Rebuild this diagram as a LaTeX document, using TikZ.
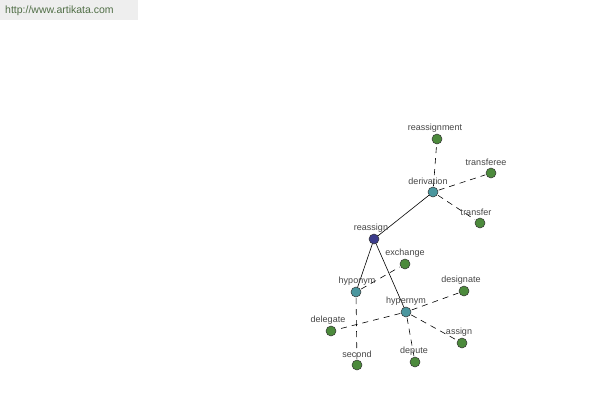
\documentclass[tikz,border=0pt]{standalone}
\usepackage{fontspec}
\setmainfont{Liberation Sans}
\definecolor{rootc}{RGB}{60,60,140}
\definecolor{midc}{RGB}{74,150,158}
\definecolor{leafc}{RGB}{76,138,60}
\definecolor{lblc}{RGB}{70,70,70}
\definecolor{urlbg}{RGB}{238,238,238}
\definecolor{urlc}{RGB}{80,110,70}
\begin{document}
\begin{tikzpicture}[x=1pt,y=-1pt,
  vtx/.style={circle,draw=black!80,line width=0.5pt,minimum size=10pt,inner sep=0pt},
  root/.style={vtx,fill=rootc},
  mid/.style={vtx,fill=midc},
  leaf/.style={vtx,fill=leafc},
  lbl/.style={font=\fontsize{9}{10}\selectfont,text=lblc,inner sep=0pt},
  solidedge/.style={draw=black,line width=0.6pt},
  dashedge/.style={draw=black,line width=0.6pt,dash pattern=on 6pt off 5pt,shorten <=6pt,shorten >=6pt}]
\useasboundingbox (0,0) rectangle (600,400);
\fill[white] (0,0) rectangle (600,400);
\fill[urlbg] (0,0) rectangle (138,20);
\node[anchor=west,inner sep=0pt,font=\fontsize{10.5}{12}\selectfont,text=urlc] (url) at (5,11) {http://www.artikata.com};

\coordinate (reassign) at (374,239);
\coordinate (derivation) at (433,192);
\coordinate (reassignment) at (437,139);
\coordinate (transferee) at (491,173);
\coordinate (transfer) at (480,223);
\coordinate (hyponym) at (356,292);
\coordinate (hypernym) at (406,312);
\coordinate (exchange) at (405,264);
\coordinate (designate) at (464,291);
\coordinate (delegate) at (331,331);
\coordinate (assign) at (462,343);
\coordinate (depute) at (415,362);
\coordinate (second) at (357,365);

\draw[solidedge] (reassign) -- (derivation);
\draw[solidedge] (reassign) -- (hyponym);
\draw[solidedge] (reassign) -- (hypernym);
\draw[dashedge] (derivation) -- (reassignment);
\draw[dashedge] (derivation) -- (transferee);
\draw[dashedge] (derivation) -- (transfer);
\draw[dashedge] (hyponym) -- (exchange);
\draw[dashedge] (hyponym) -- (second);
\draw[dashedge] (hypernym) -- (designate);
\draw[dashedge] (hypernym) -- (delegate);
\draw[dashedge] (hypernym) -- (assign);
\draw[dashedge] (hypernym) -- (depute);

\node[root] (n-reassign) at (reassign) {};
\node[mid] (n-derivation) at (derivation) {};
\node[mid] (n-hyponym) at (hyponym) {};
\node[mid] (n-hypernym) at (hypernym) {};
\node[leaf] (n-reassignment) at (reassignment) {};
\node[leaf] (n-transferee) at (transferee) {};
\node[leaf] (n-transfer) at (transfer) {};
\node[leaf] (n-exchange) at (exchange) {};
\node[leaf] (n-designate) at (designate) {};
\node[leaf] (n-delegate) at (delegate) {};
\node[leaf] (n-assign) at (assign) {};
\node[leaf] (n-depute) at (depute) {};
\node[leaf] (n-second) at (second) {};

\node[lbl] (l-reassign) at (371,228) {reassign};
\node[lbl] (l-derivation) at (428,181) {derivation};
\node[lbl] (l-reassignment) at (435,128) {reassignment};
\node[lbl] (l-transferee) at (486,162) {transferee};
\node[lbl] (l-transfer) at (476,212) {transfer};
\node[lbl] (l-hyponym) at (357,281) {hyponym};
\node[lbl] (l-hypernym) at (406,301) {hypernym};
\node[lbl] (l-exchange) at (405,253) {exchange};
\node[lbl] (l-designate) at (461,280) {designate};
\node[lbl] (l-delegate) at (328,320) {delegate};
\node[lbl] (l-assign) at (459,332) {assign};
\node[lbl] (l-depute) at (414,351) {depute};
\node[lbl] (l-second) at (357,354) {second};
\end{tikzpicture}
\end{document}
